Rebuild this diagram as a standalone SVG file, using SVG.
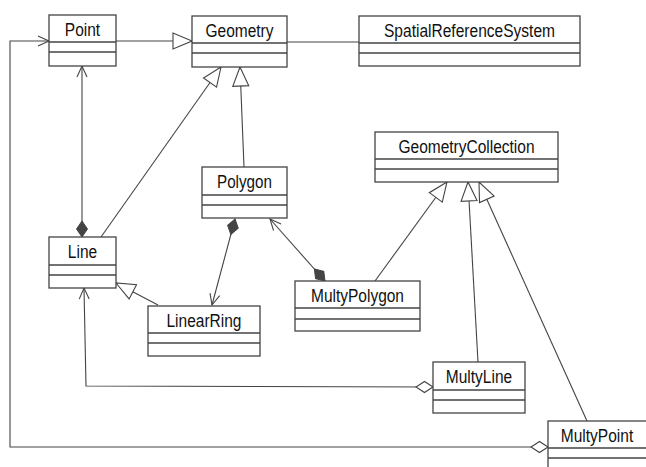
<svg xmlns="http://www.w3.org/2000/svg" width="646" height="467" viewBox="0 0 646 467">
  <style>
    .box { fill: #ffffff; stroke: #444444; stroke-width: 1.3; }
    .div { stroke: #444444; stroke-width: 1.3; fill: none; }
    .name { font-family: "Liberation Sans", Arial, sans-serif; font-size: 17.5px; fill: #111111; text-anchor: middle; }
    .edge { fill: none; stroke: #444444; stroke-width: 1.1; }
  </style>
  <defs>
    <!-- hollow triangle: generalization -->
    <marker id="tri" markerUnits="userSpaceOnUse" viewBox="-21 -10 22 20" refX="0" refY="0" markerWidth="22" markerHeight="20" orient="auto">
      <path d="M0,0 L-19,-8 L-19,8 Z" fill="#ffffff" stroke="#444444" stroke-width="1.1"/>
    </marker>
    <!-- open arrow: navigability -->
    <marker id="open" markerUnits="userSpaceOnUse" viewBox="-13 -7 15 14" refX="0" refY="0" markerWidth="15" markerHeight="14" orient="auto">
      <path d="M-11,-5 L0,0 L-11,5" fill="none" stroke="#444444" stroke-width="1.1"/>
    </marker>
    <!-- filled diamond: composition -->
    <marker id="comp" markerUnits="userSpaceOnUse" viewBox="-1 -7 18 14" refX="0" refY="0" markerWidth="18" markerHeight="14" orient="auto">
      <path d="M0,0 L8,-5.5 L16,0 L8,5.5 Z" fill="#444444" stroke="#444444" stroke-width="1"/>
    </marker>
    <!-- hollow diamond: aggregation -->
    <marker id="aggr" markerUnits="userSpaceOnUse" viewBox="-1 -7 19 14" refX="0" refY="0" markerWidth="19" markerHeight="14" orient="auto">
      <path d="M0,0 L8.5,-5.5 L17,0 L8.5,5.5 Z" fill="#ffffff" stroke="#444444" stroke-width="1.1"/>
    </marker>
  </defs>

  <g id="connectors">
    <path class="edge" d="M116,41 L192,41" marker-end="url(#tri)"/>
    <path class="edge" d="M287,42 L359,42"/>
    <path class="edge" d="M101,237 L221,67" marker-end="url(#tri)"/>
    <path class="edge" d="M244,167 L240,67" marker-end="url(#tri)"/>
    <path class="edge" d="M82,237 L82,66" marker-start="url(#comp)" marker-end="url(#open)"/>
    <path class="edge" d="M158,305 L116,283" marker-end="url(#tri)"/>
    <path class="edge" d="M235,219 L212,305" marker-start="url(#comp)" marker-end="url(#open)"/>
    <path class="edge" d="M325,281 L270,219" marker-start="url(#comp)" marker-end="url(#open)"/>
    <path class="edge" d="M375,281 L447,182" marker-end="url(#tri)"/>
    <path class="edge" d="M478,362 L468,182" marker-end="url(#tri)"/>
    <path class="edge" d="M587,421 L479,182" marker-end="url(#tri)"/>
    <path class="edge" d="M433,387 L86,386 L84,288" marker-start="url(#aggr)" marker-end="url(#open)"/>
    <path class="edge" d="M548,447 L10,447 L10,41 L49,41" marker-start="url(#aggr)" marker-end="url(#open)"/>
  </g>

  <g id="Point">
    <rect class="box" x="49" y="15" width="67" height="51"/>
    <path class="div" d="M49,42 H116 M49,52 H116"/>
    <text class="name" x="82.5" y="36" textLength="35.3" lengthAdjust="spacingAndGlyphs">Point</text>
  </g>
  <g id="Geometry">
    <rect class="box" x="192" y="16" width="95" height="51"/>
    <path class="div" d="M192,43 H287 M192,53 H287"/>
    <text class="name" x="239.5" y="37" textLength="68" lengthAdjust="spacingAndGlyphs">Geometry</text>
  </g>
  <g id="SpatialReferenceSystem">
    <rect class="box" x="359" y="16" width="221" height="50"/>
    <path class="div" d="M359,43 H580 M359,53 H580"/>
    <text class="name" x="469.5" y="37" textLength="171" lengthAdjust="spacingAndGlyphs">SpatialReferenceSystem</text>
  </g>
  <g id="Polygon">
    <rect class="box" x="202" y="167" width="85" height="51"/>
    <path class="div" d="M202,195 H287 M202,205 H287"/>
    <text class="name" x="244.5" y="188" textLength="55" lengthAdjust="spacingAndGlyphs">Polygon</text>
  </g>
  <g id="GeometryCollection">
    <rect class="box" x="375" y="132" width="183" height="50"/>
    <path class="div" d="M375,159 H558 M375,169 H558"/>
    <text class="name" x="466.5" y="153" textLength="136" lengthAdjust="spacingAndGlyphs">GeometryCollection</text>
  </g>
  <g id="Line">
    <rect class="box" x="49" y="237" width="67" height="51"/>
    <path class="div" d="M49,265 H116 M49,275 H116"/>
    <text class="name" x="82.5" y="258" textLength="29.3" lengthAdjust="spacingAndGlyphs">Line</text>
  </g>
  <g id="MultyPolygon">
    <rect class="box" x="295" y="281" width="125" height="50"/>
    <path class="div" d="M295,308 H420 M295,319 H420"/>
    <text class="name" x="357.5" y="302" textLength="93" lengthAdjust="spacingAndGlyphs">MultyPolygon</text>
  </g>
  <g id="LinearRing">
    <rect class="box" x="148" y="306" width="112" height="50"/>
    <path class="div" d="M148,333 H260 M148,343 H260"/>
    <text class="name" x="204" y="327" textLength="75" lengthAdjust="spacingAndGlyphs">LinearRing</text>
  </g>
  <g id="MultyLine">
    <rect class="box" x="433" y="362" width="92" height="51"/>
    <path class="div" d="M433,390 H525 M433,400 H525"/>
    <text class="name" x="479" y="383" textLength="66.3" lengthAdjust="spacingAndGlyphs">MultyLine</text>
  </g>
  <g id="MultyPoint">
    <rect class="box" x="548" y="421" width="102" height="50"/>
    <path class="div" d="M548,448 H650 M548,458 H650"/>
    <text class="name" x="597" y="442" textLength="72.4" lengthAdjust="spacingAndGlyphs">MultyPoint</text>
  </g>
</svg>
